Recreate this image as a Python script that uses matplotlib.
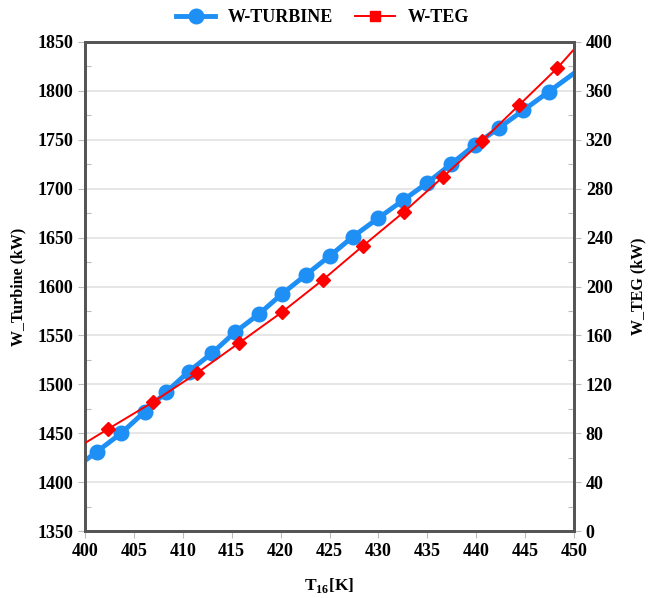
import matplotlib
matplotlib.use("Agg")
import matplotlib.pyplot as plt
from matplotlib.lines import Line2D
from matplotlib.ticker import MultipleLocator

plt.rcParams['font.family'] = ['Liberation Serif', 'DejaVu Serif']
plt.rcParams['font.weight'] = 'bold'
plt.rcParams['mathtext.fontset'] = 'custom'
plt.rcParams['mathtext.rm'] = 'Liberation Serif'
plt.rcParams['mathtext.bf'] = 'Liberation Serif:bold'

# W-Turbine (left axis), first/last points are where the line meets the frame
turbine_T = [400, 401.2, 403.7, 406.1, 408.3, 410.6, 413.0, 415.3, 417.8, 420.1, 422.6,
             425.0, 427.4, 430.0, 432.5, 435.0, 437.4, 439.9, 442.3, 444.8, 447.4, 450]
turbine_W = [1422, 1431, 1450, 1472, 1492, 1513, 1532, 1553, 1572, 1592, 1612,
             1631, 1651, 1670, 1688, 1706, 1725, 1745, 1762, 1780, 1799, 1818]

# W-TEG (right axis)
teg_T = [400, 402.35, 406.95, 411.45, 415.75, 420.15, 424.3, 428.4, 432.6,
         436.6, 440.6, 444.4, 448.3, 450]
teg_W = [72, 83.4, 105.5, 129.2, 153.8, 179.1, 205.3, 233.1, 260.9,
         289.6, 319.0, 348.5, 378.7, 394]

blue = '#1E8FF5'
red = '#FF0000'
spine_col = '#555555'

fig = plt.figure(figsize=(6.51, 5.98), dpi=100)
ax1 = fig.add_axes([0.1306, 0.112, 0.7511, 0.8178])
ax2 = ax1.twinx()

ax1.plot(turbine_T, turbine_W, color=blue, lw=3.5, marker='o', ms=10.5,
         markevery=slice(1, -1), zorder=3)
ax2.plot(teg_T, teg_W, color=red, lw=1.4, marker='D', ms=7,
         markevery=slice(1, -1), zorder=3)

ax1.set_xlim(400, 450)
ax1.set_ylim(1350, 1850)
ax2.set_ylim(0, 400)
ax1.xaxis.set_major_locator(MultipleLocator(5))
ax1.yaxis.set_major_locator(MultipleLocator(50))
ax1.yaxis.set_minor_locator(MultipleLocator(25))
ax2.yaxis.set_major_locator(MultipleLocator(40))
ax2.yaxis.set_minor_locator(MultipleLocator(20))

ax1.grid(axis='y', color='#e2e2e2', lw=1.2)
ax1.set_axisbelow(True)

for ax in (ax1, ax2):
    for s in ax.spines.values():
        s.set_color(spine_col)
        s.set_linewidth(2)
    ax.tick_params(which='major', length=5, width=0.8, color='#bbbbbb', labelsize=13)
    ax.tick_params(which='minor', length=4, width=0.8, color='#bbbbbb', direction='in')

ax1.set_xlabel(r'T$_{\mathbf{16}}$[K]', fontsize=12.5, fontweight='bold', labelpad=12)
ax1.set_ylabel('W_Turbine (kW)', fontsize=11.5, fontweight='bold', labelpad=8)
ax2.set_ylabel('W_TEG (kW)', fontsize=11.5, fontweight='bold', labelpad=13)

handles = [Line2D([], [], color=blue, lw=3.5, marker='o', ms=10.5),
           Line2D([], [], color=red, lw=1.4, marker='s', ms=7)]
fig.legend(handles, ['W-TURBINE', 'W-TEG'], loc='upper center',
           bbox_to_anchor=(0.495, 1.012), ncol=2, frameon=False,
           prop={'size': 13, 'weight': 'bold'}, handlelength=2.2,
           handletextpad=0.7, columnspacing=1.2)

fig.savefig('out.png', dpi=100)
